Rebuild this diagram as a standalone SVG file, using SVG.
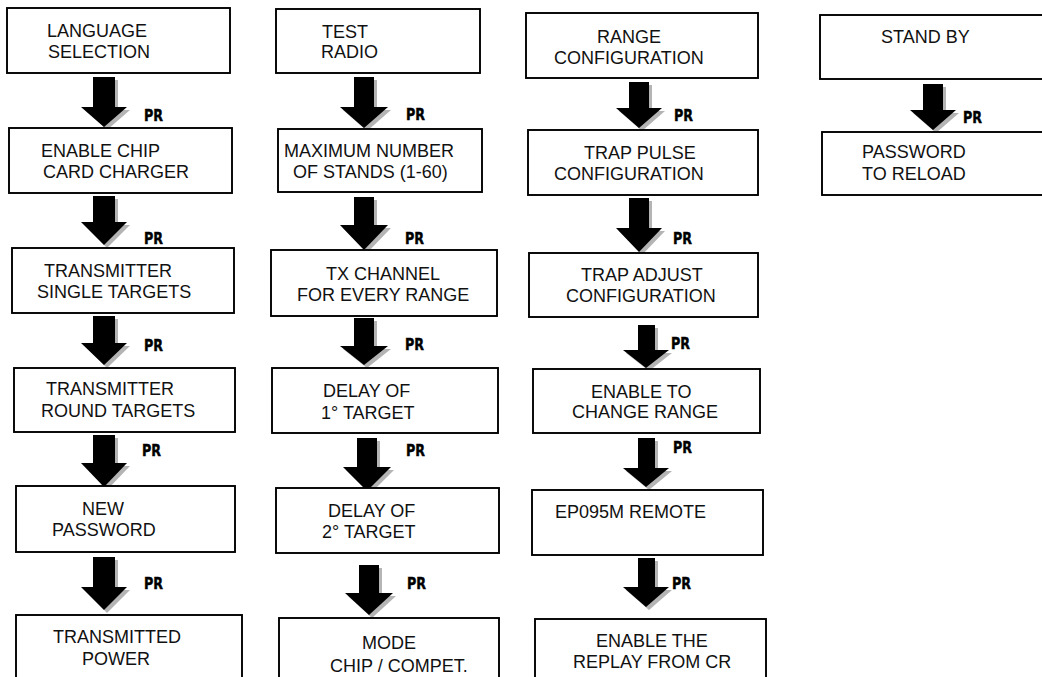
<svg xmlns="http://www.w3.org/2000/svg" width="1042" height="677" viewBox="0 0 1042 677">
<style>
.box{fill:#fff;stroke:#000;stroke-width:1.9}
.t{font-family:"Liberation Sans",Arial,sans-serif;font-size:18px;fill:#111}
.pr{font-family:"Liberation Sans Narrow","DejaVu Sans Condensed",sans-serif;font-weight:bold;font-size:16px;fill:#000;stroke:#000;stroke-width:0.4}
.ar{fill:#000}
.sh{fill:#b4b4b4}
</style>
<rect width="1042" height="677" fill="#fff"/>
<g id="connectors">
<g transform="translate(104,0)">
<polygon class="sh" points="-8,80 14,80 14,110 26,110 3,130 -19,110 -8,110"/>
<polygon class="ar" points="-11,77 11,77 11,107 23,107 0,127 -23,107 -11,107"/>
<polygon class="sh" points="-8,199 14,199 14,225 26,225 3,248 -19,225 -8,225"/>
<polygon class="ar" points="-11,196 11,196 11,222 23,222 0,245 -23,222 -11,222"/>
<polygon class="sh" points="-8,319 14,319 14,346 26,346 3,368 -19,346 -8,346"/>
<polygon class="ar" points="-11,316 11,316 11,343 23,343 0,365 -23,343 -11,343"/>
<polygon class="sh" points="-8,438 14,438 14,466 26,466 3,490 -19,466 -8,466"/>
<polygon class="ar" points="-11,435 11,435 11,463 23,463 0,487 -23,463 -11,463"/>
<polygon class="sh" points="-8,560 14,560 14,590 26,590 3,613 -19,590 -8,590"/>
<polygon class="ar" points="-11,557 11,557 11,587 23,587 0,610 -23,587 -11,587"/>
</g>
<g transform="translate(364,0)">
<polygon class="sh" points="-7,80 13,80 13,110 27,110 3,131 -21,110 -7,110"/>
<polygon class="ar" points="-10,77 10,77 10,107 24,107 0,128 -24,107 -10,107"/>
<polygon class="sh" points="-7,200 13,200 13,228 27,228 3,253 -21,228 -7,228"/>
<polygon class="ar" points="-10,197 10,197 10,225 24,225 0,250 -24,225 -10,225"/>
<polygon class="sh" points="-7,321 13,321 13,349 27,349 3,368 -21,349 -7,349"/>
<polygon class="ar" points="-10,318 10,318 10,346 24,346 0,365 -24,346 -10,346"/>
</g>
<g transform="translate(367,0)">
<polygon class="sh" points="-7,441 13,441 13,470 27,470 3,494 -21,470 -7,470"/>
<polygon class="ar" points="-10,438 10,438 10,467 24,467 0,491 -24,467 -10,467"/>
</g>
<g transform="translate(369,0)">
<polygon class="sh" points="-7,568 13,568 13,596 27,596 3,618 -21,596 -7,596"/>
<polygon class="ar" points="-10,565 10,565 10,593 24,593 0,615 -24,593 -10,593"/>
</g>
<g transform="translate(639,0)">
<polygon class="sh" points="-7,85 13,85 13,111 26,111 3,131 -20,111 -7,111"/>
<polygon class="ar" points="-10,82 10,82 10,108 23,108 0,128 -23,108 -10,108"/>
<polygon class="sh" points="-7,201 13,201 13,231 26,231 3,255 -20,231 -7,231"/>
<polygon class="ar" points="-10,198 10,198 10,228 23,228 0,252 -23,228 -10,228"/>
</g>
<g transform="translate(646,0)">
<polygon class="sh" points="-5,328 12,328 12,353 26,353 3,371 -20,353 -5,353"/>
<polygon class="ar" points="-8,325 9,325 9,350 23,350 0,368 -23,350 -8,350"/>
<polygon class="sh" points="-5,441 12,441 12,471 26,471 3,490 -20,471 -5,471"/>
<polygon class="ar" points="-8,438 9,438 9,468 23,468 0,487 -23,468 -8,468"/>
<polygon class="sh" points="-5,561 12,561 12,590 26,590 3,610 -20,590 -5,590"/>
<polygon class="ar" points="-8,558 9,558 9,587 23,587 0,607 -23,587 -8,587"/>
</g>
<g transform="translate(933,0)">
<polygon class="sh" points="-7,87 13,87 13,113 26,113 3,133 -20,113 -7,113"/>
<polygon class="ar" points="-10,84 10,84 10,110 23,110 0,130 -23,110 -10,110"/>
</g>
<text class="pr" x="144" y="121" textLength="19" lengthAdjust="spacingAndGlyphs">PR</text>
<text class="pr" x="144" y="244" textLength="19" lengthAdjust="spacingAndGlyphs">PR</text>
<text class="pr" x="144" y="351" textLength="19" lengthAdjust="spacingAndGlyphs">PR</text>
<text class="pr" x="142" y="456" textLength="19" lengthAdjust="spacingAndGlyphs">PR</text>
<text class="pr" x="144" y="589" textLength="19" lengthAdjust="spacingAndGlyphs">PR</text>
<text class="pr" x="406" y="120" textLength="19" lengthAdjust="spacingAndGlyphs">PR</text>
<text class="pr" x="405" y="244" textLength="19" lengthAdjust="spacingAndGlyphs">PR</text>
<text class="pr" x="405" y="350" textLength="19" lengthAdjust="spacingAndGlyphs">PR</text>
<text class="pr" x="406" y="456" textLength="19" lengthAdjust="spacingAndGlyphs">PR</text>
<text class="pr" x="407" y="589" textLength="19" lengthAdjust="spacingAndGlyphs">PR</text>
<text class="pr" x="674" y="121" textLength="19" lengthAdjust="spacingAndGlyphs">PR</text>
<text class="pr" x="673" y="244" textLength="19" lengthAdjust="spacingAndGlyphs">PR</text>
<text class="pr" x="671" y="349" textLength="19" lengthAdjust="spacingAndGlyphs">PR</text>
<text class="pr" x="673" y="453" textLength="19" lengthAdjust="spacingAndGlyphs">PR</text>
<text class="pr" x="672" y="589" textLength="19" lengthAdjust="spacingAndGlyphs">PR</text>
<text class="pr" x="963" y="123" textLength="19" lengthAdjust="spacingAndGlyphs">PR</text>
</g>
<g id="n-language"><rect class="box" x="7" y="8" width="223" height="65"/><text class="t" x="47" y="37">LANGUAGE</text><text class="t" x="48" y="58">SELECTION</text></g>
<g id="n-chipcard"><rect class="box" x="9" y="128" width="223" height="65"/><text class="t" x="41" y="157">ENABLE CHIP</text><text class="t" x="43" y="178">CARD CHARGER</text></g>
<g id="n-txsingle"><rect class="box" x="12" y="248" width="222" height="65"/><text class="t" x="44" y="277">TRANSMITTER</text><text class="t" x="37" y="298">SINGLE TARGETS</text></g>
<g id="n-txround"><rect class="box" x="14" y="368" width="221" height="64"/><text class="t" x="46" y="395">TRANSMITTER</text><text class="t" x="41" y="417">ROUND TARGETS</text></g>
<g id="n-newpass"><rect class="box" x="16" y="486" width="219" height="66"/><text class="t" x="82" y="515">NEW</text><text class="t" x="52" y="536">PASSWORD</text></g>
<g id="n-txpower"><rect class="box" x="16" y="615" width="226" height="72"/><text class="t" x="53" y="643">TRANSMITTED</text><text class="t" x="82" y="665">POWER</text></g>
<g id="n-testradio"><rect class="box" x="276" y="9" width="204" height="64"/><text class="t" x="322" y="38">TEST</text><text class="t" x="321" y="58">RADIO</text></g>
<g id="n-maxstands"><rect class="box" x="278" y="129" width="204" height="63"/><text class="t" x="284" y="157">MAXIMUM NUMBER</text><text class="t" x="293" y="178">OF STANDS (1-60)</text></g>
<g id="n-txchannel"><rect class="box" x="271" y="250" width="226" height="66"/><text class="t" x="326" y="280">TX CHANNEL</text><text class="t" x="297" y="301">FOR EVERY RANGE</text></g>
<g id="n-delay1"><rect class="box" x="272" y="368" width="226" height="65"/><text class="t" x="323" y="397">DELAY OF</text><text class="t" x="321" y="419">1° TARGET</text></g>
<g id="n-delay2"><rect class="box" x="276" y="488" width="223" height="65"/><text class="t" x="328" y="517">DELAY OF</text><text class="t" x="322" y="538">2° TARGET</text></g>
<g id="n-mode"><rect class="box" x="279" y="618" width="220" height="72"/><text class="t" x="362" y="649">MODE</text><text class="t" x="330" y="672">CHIP / COMPET.</text></g>
<g id="n-rangeconf"><rect class="box" x="526" y="13" width="232" height="65"/><text class="t" x="597" y="43">RANGE</text><text class="t" x="554" y="64">CONFIGURATION</text></g>
<g id="n-trappulse"><rect class="box" x="528" y="130" width="230" height="65"/><text class="t" x="584" y="159">TRAP PULSE</text><text class="t" x="554" y="180">CONFIGURATION</text></g>
<g id="n-trapadjust"><rect class="box" x="529" y="253" width="229" height="64"/><text class="t" x="581" y="281">TRAP ADJUST</text><text class="t" x="566" y="302">CONFIGURATION</text></g>
<g id="n-changerange"><rect class="box" x="533" y="369" width="227" height="64"/><text class="t" x="591" y="398">ENABLE TO</text><text class="t" x="572" y="418">CHANGE RANGE</text></g>
<g id="n-remote"><rect class="box" x="532" y="490" width="231" height="65"/><text class="t" x="555" y="518">EP095M REMOTE</text></g>
<g id="n-replay"><rect class="box" x="535" y="619" width="231" height="72"/><text class="t" x="596" y="647">ENABLE THE</text><text class="t" x="573" y="668">REPLAY FROM CR</text></g>
<g id="n-standby"><rect class="box" x="820" y="15" width="235" height="64"/><text class="t" x="881" y="43">STAND BY</text></g>
<g id="n-reload"><rect class="box" x="822" y="132" width="233" height="63"/><text class="t" x="862" y="158">PASSWORD</text><text class="t" x="862" y="180">TO RELOAD</text></g>
</svg>
